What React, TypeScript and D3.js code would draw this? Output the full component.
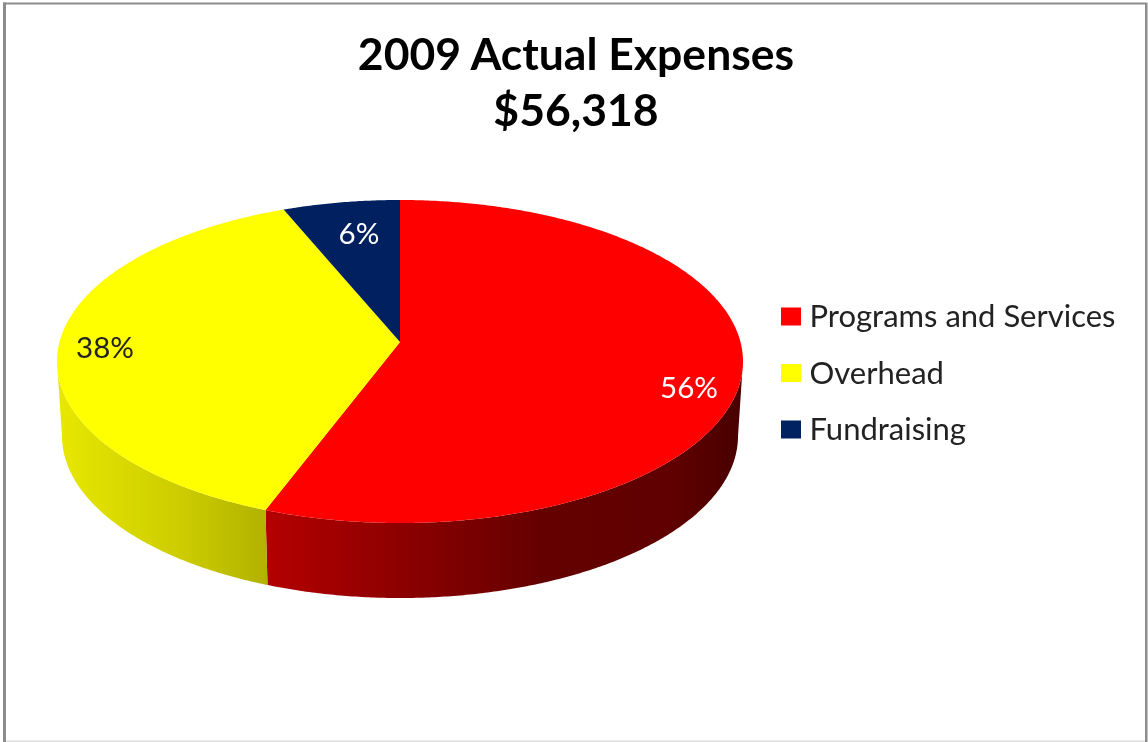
import React from "react";
import * as d3 from "d3";

const titleLines = ["2009 Actual Expenses", "$56,318"];
const categories = ["Programs and Services", "Overhead", "Fundraising"];
const shares = [55.7, 38.1, 6.2];
const sliceColors = ["#ff0000", "#ffff00", "#002060"];
const labelColors = ["#ffffff", "#222222", "#ffffff"];
const labelSpots: [number, number][] = [[689, 388], [105, 348], [359, 234]];
const sideStops: Record<number, [number, string][]> = {
  0: [[0, "#b40000"], [0.58, "#640000"], [0.85, "#600000"], [1, "#480000"]],
  1: [[0, "#e8e800"], [0.6, "#cccc00"], [1, "#b2b200"]],
};

const W = 1148, H = 742;
const top = { cx: 400, cy: 361.5, rx: 343, ry: 161.5 };
const bottom = { cx: 400, cy: 436, rx: 338, ry: 162 };
const k = -0.12; // perspective shift of the pie centre on screen

// pie angle (clockwise from 12 o'clock) -> unit ellipse coordinates under perspective
function project(a: number): [number, number] {
  const u = Math.sin(a), v = -Math.cos(a);
  const d = 1 + k * v;
  return [(u * Math.sqrt(1 - k * k)) / d, (v + k) / d];
}
const on = (e: typeof top, p: [number, number]): [number, number] => [e.cx + e.rx * p[0], e.cy + e.ry * p[1]];

const arcs = d3.pie<number>().sort(null)(shares);
const line = d3.line();

function samples(a0: number, a1: number) {
  const n = Math.max(2, Math.ceil((a1 - a0) * 120));
  return d3.range(n + 1).map((i) => project(a0 + ((a1 - a0) * i) / n));
}

export default function App() {
  const apex = on(top, [0, k]);
  return (
    <svg width={W} height={H} style={{ position: "absolute", left: 0, top: 0, background: "#fff" }}>
      <defs>
        <filter id="soft" x="-5%" y="-5%" width="110%" height="110%">
          <feGaussianBlur stdDeviation="0.45" />
        </filter>
        {Object.entries(sideStops).map(([i, stops]) => {
          const idx = +i;
          const pts = samples(arcs[idx].startAngle, arcs[idx].endAngle).filter((p) => p[1] >= 0);
          const xs = pts.map((p) => on(top, p)[0]);
          return (
            <linearGradient key={i} id={`side${i}`} gradientUnits="userSpaceOnUse"
              x1={d3.min(xs)} x2={d3.max(xs)} y1={0} y2={0}>
              {stops.map(([o, c]) => <stop key={o} offset={o} stopColor={c} />)}
            </linearGradient>
          );
        })}
      </defs>

      <rect x={3} y={2.5} width={3} height={H} fill="#8c8c8c" />
      <rect x={3} y={2.5} width={1142} height={2} fill="#8c8c8c" />
      <rect x={1145} y={2.5} width={2.5} height={H} fill="#8c8c8c" />
      <rect x={6} y={740.5} width={1139} height={1.5} fill="#dddddd" />

      {arcs.map((s, i) => {
        const pts = samples(s.startAngle, s.endAngle).filter((p) => p[1] >= 0);
        if (pts.length < 2) return null;
        const d = line([...pts.map((p) => on(top, p)), ...pts.slice().reverse().map((p) => on(bottom, p))]) + "Z";
        return <path key={i} d={d} fill={`url(#side${i})`} />;
      })}

      {arcs.map((s, i) => {
        const d = line([apex, ...samples(s.startAngle, s.endAngle).map((p) => on(top, p))]) + "Z";
        return <path key={i} d={d} fill={sliceColors[i]} />;
      })}

      <g fontFamily="Lato, 'Open Sans', sans-serif" filter="url(#soft)">
        {titleLines.map((t, i) => (
          <text key={t} x={576} y={70 + i * 56} textAnchor="middle" fontSize={44.5} fontWeight={700} fill="#000">{t}</text>
        ))}
        {arcs.map((s, i) => (
          <text key={i} x={labelSpots[i][0]} y={labelSpots[i][1]} dy="0.35em" textAnchor="middle" fontSize={29.5} fill={labelColors[i]}>
            {`${Math.round(s.value)}%`}
          </text>
        ))}
        {categories.map((c, i) => (
          <g key={c} transform={`translate(781,${307.5 + i * 56.5})`}>
            <rect width={20} height={18} fill={sliceColors[i]} />
            <text x={28.5} y={9} dy="0.35em" fontSize={31} fill="#222222">{c}</text>
          </g>
        ))}
      </g>
    </svg>
  );
}
